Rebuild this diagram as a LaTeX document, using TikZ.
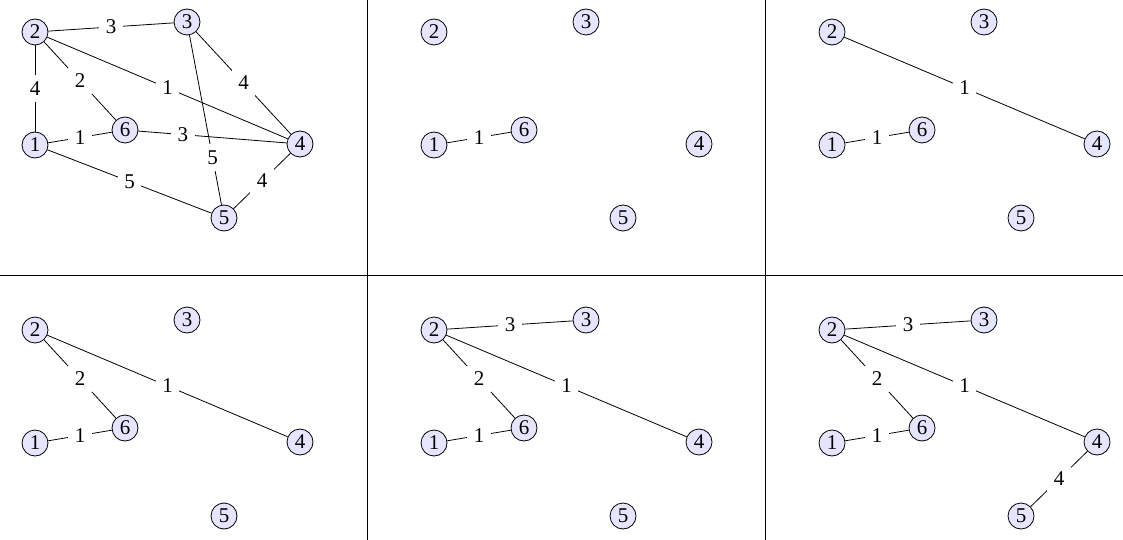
\documentclass[tikz,border=0pt]{standalone}
\usepackage{fontspec}
\setmainfont{Liberation Serif}
\begin{document}
\begin{tikzpicture}[x=1pt,y=-1pt,
  vtx/.style={circle,draw,fill=blue!10,line width=0.8pt,inner sep=0pt,minimum size=26pt,font=\fontsize{21}{25}\selectfont},
  edge/.style={line width=0.8pt},
  wt/.style={fill=white,inner sep=6.5pt,font=\fontsize{21}{25}\selectfont},
  sep/.style={line width=0.9pt}]
\useasboundingbox (0,0) rectangle (1123,540);
\newcommand\gnodes[3]{%
  \node[vtx] (#3n2) at (#1+35,#2+32) {2};
  \node[vtx] (#3n3) at (#1+187,#2+22) {3};
  \node[vtx] (#3n6) at (#1+125,#2+130) {6};
  \node[vtx] (#3n1) at (#1+35,#2+145) {1};
  \node[vtx] (#3n4) at (#1+300,#2+144) {4};
  \node[vtx] (#3n5) at (#1+224,#2+218) {5};
}
\gnodes{0}{0}{a}
\gnodes{399}{0}{b}
\gnodes{797}{0}{c}
\gnodes{0}{298}{d}
\gnodes{399}{298}{e}
\gnodes{797}{298}{f}
% panel a: full graph
\draw[edge] (an2) -- node[wt]{3} (an3);
\draw[edge] (an2) -- node[wt]{4} (an1);
\draw[edge] (an2) -- node[wt]{2} (an6);
\draw[edge] (an2) -- node[wt]{1} (an4);
\draw[edge] (an3) -- node[wt]{4} (an4);
\draw[edge] (an3) -- node[wt,pos=0.72]{5} (an5);
\draw[edge] (an1) -- node[wt]{1} (an6);
\draw[edge] (an6) -- node[wt,pos=0.3]{3} (an4);
\draw[edge] (an1) -- node[wt]{5} (an5);
\draw[edge] (an4) -- node[wt]{4} (an5);
% panel b
\draw[edge] (bn1) -- node[wt]{1} (bn6);
% panel c
\draw[edge] (cn1) -- node[wt]{1} (cn6);
\draw[edge] (cn2) -- node[wt]{1} (cn4);
% panel d
\draw[edge] (dn1) -- node[wt]{1} (dn6);
\draw[edge] (dn2) -- node[wt]{1} (dn4);
\draw[edge] (dn2) -- node[wt]{2} (dn6);
% panel e
\draw[edge] (en1) -- node[wt]{1} (en6);
\draw[edge] (en2) -- node[wt]{1} (en4);
\draw[edge] (en2) -- node[wt]{2} (en6);
\draw[edge] (en2) -- node[wt]{3} (en3);
% panel f
\draw[edge] (fn1) -- node[wt]{1} (fn6);
\draw[edge] (fn2) -- node[wt]{1} (fn4);
\draw[edge] (fn2) -- node[wt]{2} (fn6);
\draw[edge] (fn2) -- node[wt]{3} (fn3);
\draw[edge] (fn4) -- node[wt]{4} (fn5);
% separators
\coordinate (v1t) at (367,0); \coordinate (v1b) at (367,540);
\coordinate (v2t) at (765,0); \coordinate (v2b) at (765,540);
\coordinate (hl) at (0,275); \coordinate (hr) at (1123,275);
\draw[sep] (v1t) -- (v1b);
\draw[sep] (v2t) -- (v2b);
\draw[sep] (hl) -- (hr);
\end{tikzpicture}
\end{document}
